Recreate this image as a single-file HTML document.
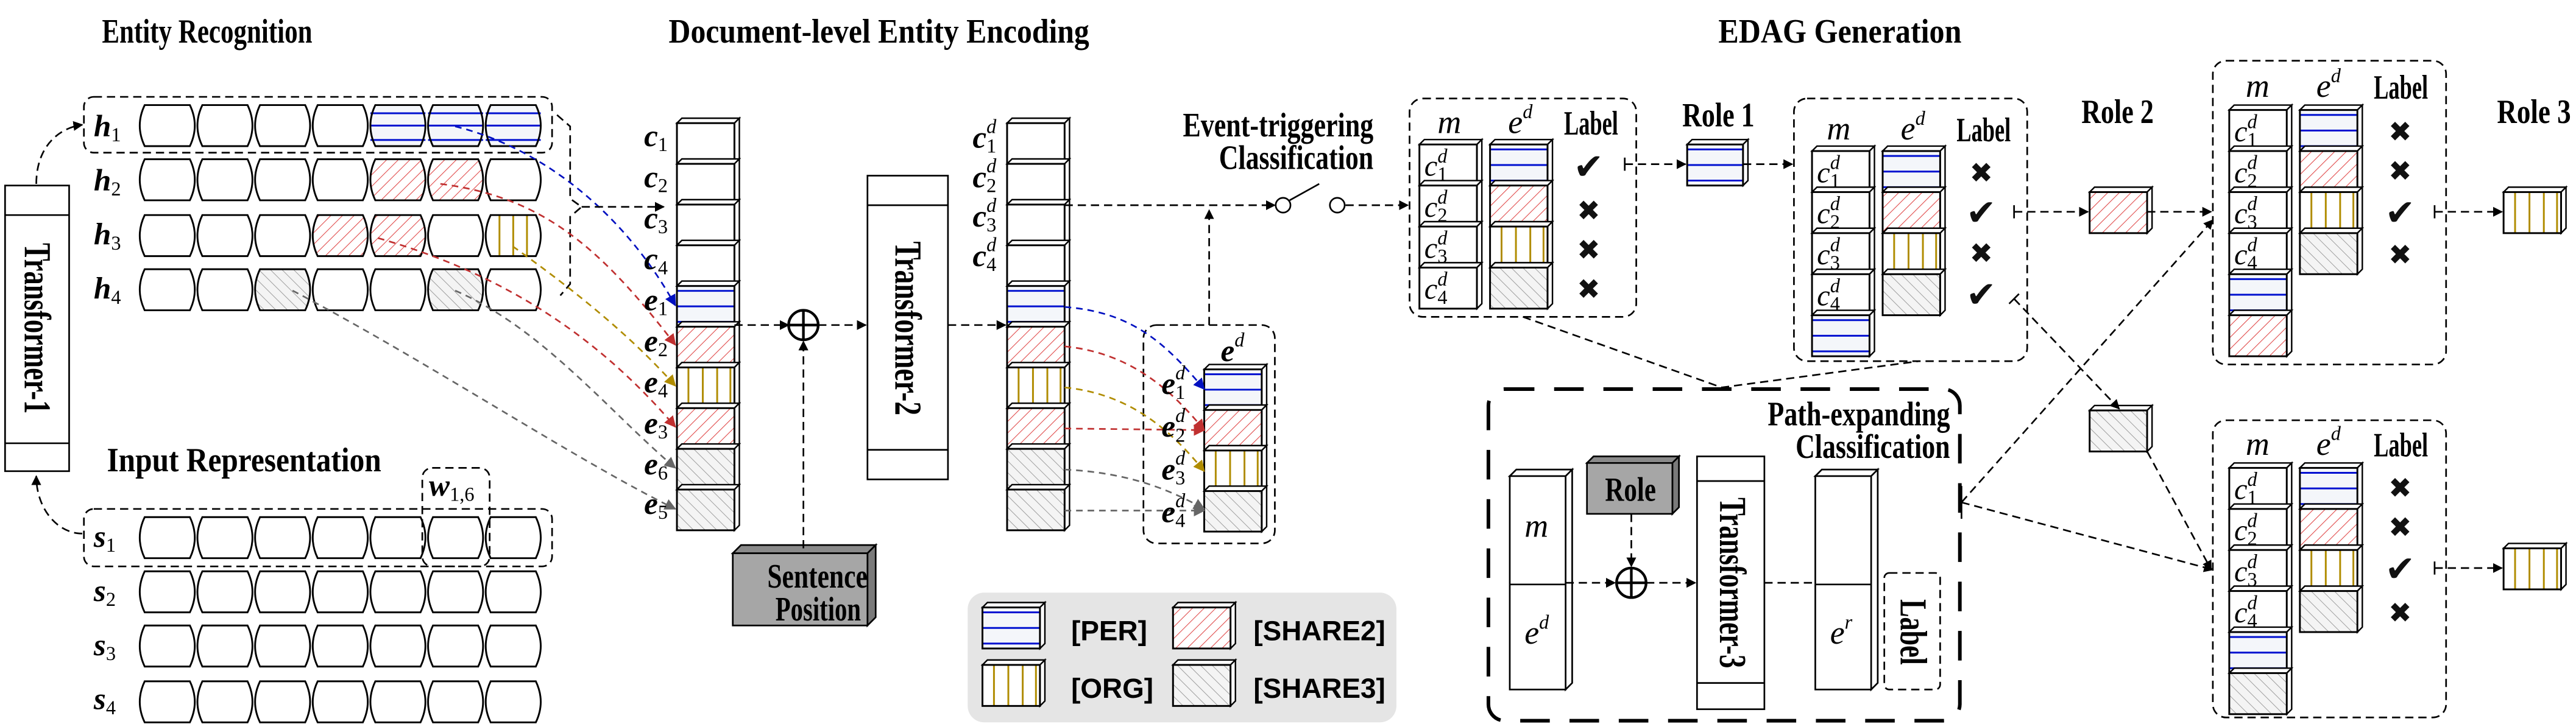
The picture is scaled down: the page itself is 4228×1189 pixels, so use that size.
<!DOCTYPE html>
<html><head><meta charset="utf-8"><style>
html,body{margin:0;padding:0;background:#fff}
svg{display:block}
.t{font-family:"Liberation Serif",serif;font-weight:bold;font-size:21px}
.tt{font-family:"Liberation Serif",serif;font-weight:bold;font-size:23px}
.mi{font-family:"Liberation Serif",serif;font-style:italic;font-weight:bold;font-size:19px}
.mr{font-family:"Liberation Serif",serif;font-style:italic;font-size:20px}
.sb{font-family:"Liberation Serif",serif;font-style:italic;font-weight:normal;font-size:12px}
.sn{font-family:"Liberation Serif",serif;font-style:normal;font-weight:normal;font-size:12px}
.lg{font-family:"Liberation Sans",sans-serif;font-weight:bold;font-size:17px}
.mk{font-family:"DejaVu Sans",sans-serif;font-size:17px;fill:#111}
.d{fill:none;stroke:#000;stroke-width:1;stroke-dasharray:5 3}
</style></head><body>
<svg id="S" width="4228" height="1189" viewBox="0 0 1568 441" xmlns="http://www.w3.org/2000/svg">
<defs>
<pattern id="pr" patternUnits="userSpaceOnUse" width="5" height="5" patternTransform="rotate(45)"><rect width="5" height="5" fill="#fff"/><line x1="0" y1="0" x2="0" y2="5" stroke="#e04848" stroke-width="0.8"/></pattern>
<pattern id="pg" patternUnits="userSpaceOnUse" width="5" height="5" patternTransform="rotate(-45)"><rect width="5" height="5" fill="#f4f4f4"/><line x1="0" y1="0" x2="0" y2="5" stroke="#999" stroke-width="0.7"/></pattern>
<marker id="ak" viewBox="0 0 10 10" refX="9" refY="5" markerWidth="6" markerHeight="6" orient="auto" markerUnits="userSpaceOnUse"><path d="M0,0 L10,5 L0,10 z" fill="#000"/></marker>
<marker id="ab" viewBox="0 0 10 10" refX="9" refY="5" markerWidth="7" markerHeight="7" orient="auto" markerUnits="userSpaceOnUse"><path d="M0,0 L10,5 L0,10 z" fill="#0010c0"/></marker>
<marker id="ar" viewBox="0 0 10 10" refX="9" refY="5" markerWidth="7" markerHeight="7" orient="auto" markerUnits="userSpaceOnUse"><path d="M0,0 L10,5 L0,10 z" fill="#c03030"/></marker>
<marker id="ay" viewBox="0 0 10 10" refX="9" refY="5" markerWidth="7" markerHeight="7" orient="auto" markerUnits="userSpaceOnUse"><path d="M0,0 L10,5 L0,10 z" fill="#b08c00"/></marker>
<marker id="ag" viewBox="0 0 10 10" refX="9" refY="5" markerWidth="7" markerHeight="7" orient="auto" markerUnits="userSpaceOnUse"><path d="M0,0 L10,5 L0,10 z" fill="#666"/></marker>
</defs>
<rect x="589" y="361" width="261" height="79" rx="10" fill="#e5e5e5"/>
<g id="shapes"></g>

<rect class="d" x="51" y="59" width="285" height="34" rx="6"/>
<rect class="d" x="51" y="310" width="285" height="35" rx="6"/>
<rect class="d" x="257" y="285" width="41" height="60" rx="6"/>
<path class="d" d="M339,70 L347,77 L347,121 L354,126 L347,132 L347,173 L341,180"/>
<rect class="d" x="696" y="198" width="80" height="133" rx="8"/>
<rect class="d" x="858" y="60" width="138" height="133" rx="8"/>
<rect class="d" x="1092" y="60" width="142" height="160" rx="8"/>
<rect class="d" x="1347" y="37" width="142" height="185" rx="8"/>
<rect class="d" x="1347" y="256" width="142" height="181" rx="8"/>
<rect class="d" x="1147" y="349" width="34" height="71" rx="3"/>
<rect x="906" y="237" width="287" height="202" rx="10" fill="none" stroke="#000" stroke-width="2.2" stroke-dasharray="18 12"/>

<g fill="#fff" stroke="#000" stroke-width="1">
<rect x="3" y="113" width="39" height="174"/><line x1="3" y1="131" x2="42" y2="131"/><line x1="3" y1="270" x2="42" y2="270"/>
<rect x="528" y="107" width="49" height="185"/><line x1="528" y1="125" x2="577" y2="125"/><line x1="528" y1="274" x2="577" y2="274"/>
<rect x="1033" y="278" width="41" height="154"/><line x1="1033" y1="293" x2="1074" y2="293"/><line x1="1033" y1="416" x2="1074" y2="416"/>
<path d="M919,290 L923,286 L957,286 L953,290 Z M953,290 L957,286 L957,416 L953,420 Z"/><rect x="919" y="290" width="34" height="130"/><line x1="919" y1="356" x2="953" y2="356"/>
<path d="M1105,290 L1109,286 L1143,286 L1139,290 Z M1139,290 L1143,286 L1143,416 L1139,420 Z"/><rect x="1105" y="290" width="34" height="130"/><line x1="1105" y1="356" x2="1139" y2="356"/>
</g>
<g stroke="#000" stroke-width="1">
<path d="M446,337 L451,332 L533,332 L528,337 Z" fill="#8a8a8a"/><path d="M528,337 L533,332 L533,376 L528,381 Z" fill="#7a7a7a"/><rect x="446" y="337" width="82" height="44" fill="#a6a6a6"/>
<path d="M966,282 L970,278 L1022,278 L1018,282 Z" fill="#8a8a8a"/><path d="M1018,282 L1022,278 L1022,309 L1018,313 Z" fill="#7a7a7a"/><rect x="966" y="282" width="52" height="31" fill="#a6a6a6"/>
</g>

<g fill="none" stroke-width="1" stroke-dasharray="4 3">
<path d="M277,77 C330,90 380,130 411,186" stroke="#0010c0" marker-end="url(#ab)"/>
<path d="M268,112 C330,120 365,150 411,210" stroke="#c03030" marker-end="url(#ar)"/>
<path d="M312,150 C340,170 380,200 411,235" stroke="#b08c00" marker-end="url(#ay)"/>
<path d="M230,145 C300,165 360,200 411,260" stroke="#c03030" marker-end="url(#ar)"/>
<path d="M277,177 C330,200 370,250 411,285" stroke="#666" marker-end="url(#ag)"/>
<path d="M178,177 C260,220 350,280 411,310" stroke="#666" marker-end="url(#ag)"/>
<path d="M648,187 C690,190 710,210 733,237" stroke="#0010c0" marker-end="url(#ab)"/>
<path d="M648,211 C690,215 715,240 733,262" stroke="#c03030" marker-end="url(#ar)"/>
<path d="M648,236 C690,240 715,265 733,287" stroke="#b08c00" marker-end="url(#ay)"/>
<path d="M648,261 L733,262" stroke="#c03030" marker-end="url(#ar)"/>
<path d="M648,286 C690,288 715,300 733,310" stroke="#666" marker-end="url(#ag)"/>
<path d="M648,311 L733,311" stroke="#666" marker-end="url(#ag)"/>
</g>

<g class="d" style="fill:none">
<path d="M22,112 C22,90 35,78 50,76" marker-end="url(#ak)"/>
<path d="M50,325 C35,325 22,310 22,290" marker-end="url(#ak)"/>
<path d="M354,126 L404,126" marker-end="url(#ak)"/>
<path d="M447,198 L480,198" marker-end="url(#ak)"/>
<path d="M489,334 L489,208" marker-end="url(#ak)"/>
<path d="M498,198 L527,198" marker-end="url(#ak)"/>
<path d="M577,198 L612,198" marker-end="url(#ak)"/>
<path d="M648,125 L776,125" marker-end="url(#ak)"/>
<path d="M819,125 L857,125" marker-end="url(#ak)"/>
<path d="M736,198 L736,128" marker-end="url(#ak)"/>
<path d="M989,100 L1026,100" marker-end="url(#ak)"/>
<path d="M1061,100 L1091,100" marker-end="url(#ak)"/>
<path d="M1226,129 L1271,129" marker-end="url(#ak)"/>
<path d="M1307,129 L1346,129" marker-end="url(#ak)"/>
<path d="M1482,129 L1523,129" marker-end="url(#ak)"/>
<path d="M1482,346 L1523,346" marker-end="url(#ak)"/>
<path d="M1226,182 L1290,249" marker-end="url(#ak)"/>
<path d="M1307,275 L1346,347" marker-end="url(#ak)"/>
<path d="M927,193 L1048,236 L1168,220"/>
<path d="M1194,306 L1347,134" marker-end="url(#ak)"/>
<path d="M1194,306 L1347,347" marker-end="url(#ak)"/>
<path d="M953,355 L983,355" marker-end="url(#ak)"/>
<path d="M993,313 L993,345" marker-end="url(#ak)"/>
<path d="M1002,355 L1032,355" marker-end="url(#ak)"/>
<path d="M1074,355 L1105,355"/>
</g>
<g stroke="#000" stroke-width="1" fill="none">
<line x1="989" y1="96" x2="989" y2="104"/><line x1="1226" y1="125" x2="1226" y2="133"/>
<line x1="1482" y1="125" x2="1482" y2="133"/><line x1="1482" y1="342" x2="1482" y2="350"/>
<line x1="1223" y1="185" x2="1229" y2="179"/>
<line x1="1194" y1="296" x2="1194" y2="316"/>
<circle cx="781" cy="125" r="4.5" fill="#fff"/><circle cx="814" cy="125" r="4.5" fill="#fff"/><line x1="785" y1="122" x2="803" y2="112"/>
<g stroke-width="1.6"><circle cx="489" cy="198" r="9"/><line x1="480" y1="198" x2="498" y2="198"/><line x1="489" y1="189" x2="489" y2="207"/>
<circle cx="993" cy="355" r="9"/><line x1="984" y1="355" x2="1002" y2="355"/><line x1="993" y1="346" x2="993" y2="364"/></g>
</g>

<text class="t" x="62" y="26" textLength="128" lengthAdjust="spacingAndGlyphs">Entity Recognition</text>
<text class="t" x="407" y="26" textLength="256" lengthAdjust="spacingAndGlyphs">Document-level Entity Encoding</text>
<text class="t" x="1046" y="26" textLength="148" lengthAdjust="spacingAndGlyphs">EDAG Generation</text>
<text class="t" x="65" y="287" textLength="167" lengthAdjust="spacingAndGlyphs">Input Representation</text>
<text class="t" x="720" y="83" textLength="116" lengthAdjust="spacingAndGlyphs">Event-triggering</text>
<text class="t" x="742" y="103" textLength="94" lengthAdjust="spacingAndGlyphs">Classification</text>
<text class="t" x="1076" y="259" textLength="111" lengthAdjust="spacingAndGlyphs">Path-expanding</text>
<text class="t" x="1093" y="279" textLength="94" lengthAdjust="spacingAndGlyphs">Classification</text>
<text class="t" x="1024" y="77" textLength="44" lengthAdjust="spacingAndGlyphs">Role 1</text>
<text class="t" x="1267" y="75" textLength="44" lengthAdjust="spacingAndGlyphs">Role 2</text>
<text class="t" x="1520" y="75" textLength="45" lengthAdjust="spacingAndGlyphs">Role 3</text>
<text class="t" x="467" y="358" textLength="61" lengthAdjust="spacingAndGlyphs">Sentence</text>
<text class="t" x="472" y="378" textLength="52" lengthAdjust="spacingAndGlyphs">Position</text>
<text class="t" x="977" y="305" textLength="31" lengthAdjust="spacingAndGlyphs">Role</text>
<text class="tt" transform="translate(15,200) rotate(90)" text-anchor="middle" textLength="104" lengthAdjust="spacingAndGlyphs">Transformer-1</text>
<text class="tt" transform="translate(545,200) rotate(90)" text-anchor="middle" textLength="106" lengthAdjust="spacingAndGlyphs">Transformer-2</text>
<text class="tt" transform="translate(1047,355) rotate(90)" text-anchor="middle" textLength="104" lengthAdjust="spacingAndGlyphs">Transformer-3</text>
<text class="tt" transform="translate(1157,385) rotate(90)" text-anchor="middle" textLength="40" lengthAdjust="spacingAndGlyphs">Label</text>

<text class="lg" x="652" y="390">[PER]</text>
<text class="lg" x="763" y="390">[SHARE2]</text>
<text class="lg" x="652" y="425">[ORG]</text>
<text class="lg" x="763" y="425">[SHARE3]</text>

<text class="mi" x="57" y="83">h<tspan class="sn" dy="3">1</tspan></text>
<text class="mi" x="57" y="116">h<tspan class="sn" dy="3">2</tspan></text>
<text class="mi" x="57" y="149">h<tspan class="sn" dy="3">3</tspan></text>
<text class="mi" x="57" y="182">h<tspan class="sn" dy="3">4</tspan></text>
<text class="mi" x="57" y="333">s<tspan class="sn" dy="3">1</tspan></text>
<text class="mi" x="57" y="366">s<tspan class="sn" dy="3">2</tspan></text>
<text class="mi" x="57" y="399">s<tspan class="sn" dy="3">3</tspan></text>
<text class="mi" x="57" y="432">s<tspan class="sn" dy="3">4</tspan></text>
<text class="mi" x="261" y="302">w<tspan class="sn" dy="3">1,6</tspan></text>

<text class="mi" x="392" y="89">c<tspan class="sn" dy="3">1</tspan></text>
<text class="mi" x="392" y="114">c<tspan class="sn" dy="3">2</tspan></text>
<text class="mi" x="392" y="139">c<tspan class="sn" dy="3">3</tspan></text>
<text class="mi" x="392" y="164">c<tspan class="sn" dy="3">4</tspan></text>
<text class="mi" x="392" y="189">e<tspan class="sn" dy="3">1</tspan></text>
<text class="mi" x="392" y="214">e<tspan class="sn" dy="3">2</tspan></text>
<text class="mi" x="392" y="239">e<tspan class="sn" dy="3">4</tspan></text>
<text class="mi" x="392" y="264">e<tspan class="sn" dy="3">3</tspan></text>
<text class="mi" x="392" y="289">e<tspan class="sn" dy="3">6</tspan></text>
<text class="mi" x="392" y="313">e<tspan class="sn" dy="3">5</tspan></text>

<text class="mi" x="592" y="90">c<tspan class="sb" dy="-9">d</tspan><tspan class="sn" dx="-6" dy="12">1</tspan></text>
<text class="mi" x="592" y="114">c<tspan class="sb" dy="-9">d</tspan><tspan class="sn" dx="-6" dy="12">2</tspan></text>
<text class="mi" x="592" y="138">c<tspan class="sb" dy="-9">d</tspan><tspan class="sn" dx="-6" dy="12">3</tspan></text>
<text class="mi" x="592" y="162">c<tspan class="sb" dy="-9">d</tspan><tspan class="sn" dx="-6" dy="12">4</tspan></text>
<text class="mi" x="707" y="240">e<tspan class="sb" dy="-9">d</tspan><tspan class="sn" dx="-6" dy="12">1</tspan></text>
<text class="mi" x="707" y="266">e<tspan class="sb" dy="-9">d</tspan><tspan class="sn" dx="-6" dy="12">2</tspan></text>
<text class="mi" x="707" y="292">e<tspan class="sb" dy="-9">d</tspan><tspan class="sn" dx="-6" dy="12">3</tspan></text>
<text class="mi" x="707" y="318">e<tspan class="sb" dy="-9">d</tspan><tspan class="sn" dx="-6" dy="12">4</tspan></text>
<text class="mi" x="743" y="220">e<tspan class="sb" dy="-9">d</tspan></text>

<text class="mr" x="875" y="81">m</text><text class="mr" x="918" y="81">e<tspan class="sb" dy="-9">d</tspan></text><text class="t" x="952" y="82" textLength="33" lengthAdjust="spacingAndGlyphs">Label</text>
<text class="mr" x="1112" y="85">m</text><text class="mr" x="1157" y="85">e<tspan class="sb" dy="-9">d</tspan></text><text class="t" x="1191" y="86" textLength="33" lengthAdjust="spacingAndGlyphs">Label</text>
<text class="mr" x="1367" y="59">m</text><text class="mr" x="1410" y="59">e<tspan class="sb" dy="-9">d</tspan></text><text class="t" x="1445" y="60" textLength="33" lengthAdjust="spacingAndGlyphs">Label</text>
<text class="mr" x="1367" y="277">m</text><text class="mr" x="1410" y="277">e<tspan class="sb" dy="-9">d</tspan></text><text class="t" x="1445" y="278" textLength="33" lengthAdjust="spacingAndGlyphs">Label</text>
<text class="mr" x="928" y="327">m</text>
<text class="mr" x="928" y="392">e<tspan class="sb" dy="-9">d</tspan></text>
<text class="mr" x="1114" y="392">e<tspan class="sb" dy="-9">r</tspan></text>

<g class="mr" font-size="18" style="font-size:18px">
<text x="867" y="107">c<tspan class="sb" dy="-8">d</tspan><tspan class="sn" dx="-6" dy="11">1</tspan></text>
<text x="867" y="132">c<tspan class="sb" dy="-8">d</tspan><tspan class="sn" dx="-6" dy="11">2</tspan></text>
<text x="867" y="157">c<tspan class="sb" dy="-8">d</tspan><tspan class="sn" dx="-6" dy="11">3</tspan></text>
<text x="867" y="182">c<tspan class="sb" dy="-8">d</tspan><tspan class="sn" dx="-6" dy="11">4</tspan></text>
<text x="1106" y="111">c<tspan class="sb" dy="-8">d</tspan><tspan class="sn" dx="-6" dy="11">1</tspan></text>
<text x="1106" y="136">c<tspan class="sb" dy="-8">d</tspan><tspan class="sn" dx="-6" dy="11">2</tspan></text>
<text x="1106" y="161">c<tspan class="sb" dy="-8">d</tspan><tspan class="sn" dx="-6" dy="11">3</tspan></text>
<text x="1106" y="186">c<tspan class="sb" dy="-8">d</tspan><tspan class="sn" dx="-6" dy="11">4</tspan></text>
<text x="1360" y="86">c<tspan class="sb" dy="-8">d</tspan><tspan class="sn" dx="-6" dy="11">1</tspan></text>
<text x="1360" y="111">c<tspan class="sb" dy="-8">d</tspan><tspan class="sn" dx="-6" dy="11">2</tspan></text>
<text x="1360" y="136">c<tspan class="sb" dy="-8">d</tspan><tspan class="sn" dx="-6" dy="11">3</tspan></text>
<text x="1360" y="161">c<tspan class="sb" dy="-8">d</tspan><tspan class="sn" dx="-6" dy="11">4</tspan></text>
<text x="1360" y="304">c<tspan class="sb" dy="-8">d</tspan><tspan class="sn" dx="-6" dy="11">1</tspan></text>
<text x="1360" y="329">c<tspan class="sb" dy="-8">d</tspan><tspan class="sn" dx="-6" dy="11">2</tspan></text>
<text x="1360" y="354">c<tspan class="sb" dy="-8">d</tspan><tspan class="sn" dx="-6" dy="11">3</tspan></text>
<text x="1360" y="379">c<tspan class="sb" dy="-8">d</tspan><tspan class="sn" dx="-6" dy="11">4</tspan></text>
</g>

<g class="mk" text-anchor="middle">
<text x="967" y="109" style="font-size:22px">✔</text><text x="967" y="134">✖</text><text x="967" y="158">✖</text><text x="967" y="182">✖</text>
<text x="1206" y="111">✖</text><text x="1206" y="137" style="font-size:22px">✔</text><text x="1206" y="160">✖</text><text x="1206" y="187" style="font-size:22px">✔</text>
<text x="1461" y="86">✖</text><text x="1461" y="110">✖</text><text x="1461" y="137" style="font-size:22px">✔</text><text x="1461" y="161">✖</text>
<text x="1461" y="303">✖</text><text x="1461" y="327">✖</text><text x="1461" y="354" style="font-size:22px">✔</text><text x="1461" y="379">✖</text>
</g>
</svg>
<script>
(function(){
var NS="http://www.w3.org/2000/svg",G=document.getElementById("shapes");
function el(t,a){var e=document.createElementNS(NS,t);for(var k in a)e.setAttribute(k,a[k]);G.appendChild(e);return e;}
function deco(x,y,w,h,t){
 if(t=="b"){[0.12,0.5,0.88].forEach(function(f){el("line",{x1:x,x2:x+w,y1:y+h*f,y2:y+h*f,stroke:"#0010d0","stroke-width":1.1});});}
 if(t=="y"){[0.2,0.45,0.7,0.93].forEach(function(f){el("line",{x1:x+w*f,x2:x+w*f,y1:y,y2:y+h,stroke:"#b08c00","stroke-width":1.1});});}
}
function fillOf(t){return t=="r"?"url(#pr)":t=="g"?"url(#pg)":t=="b"?"#f4f6fa":"#fff";}
function cube(x,y,w,h,t,d){d=d||3;
 el("path",{d:"M"+x+","+y+" L"+(x+d)+","+(y-d)+" L"+(x+w+d)+","+(y-d)+" L"+(x+w)+","+y+" Z",fill:"#fff",stroke:"#000","stroke-width":0.9});
 el("path",{d:"M"+(x+w)+","+y+" L"+(x+w+d)+","+(y-d)+" L"+(x+w+d)+","+(y+h-d)+" L"+(x+w)+","+(y+h)+" Z",fill:"#fff",stroke:"#000","stroke-width":0.9});
 el("rect",{x:x,y:y,width:w,height:h,fill:fillOf(t),stroke:"none"});
 deco(x,y,w,h,t);
 el("rect",{x:x,y:y,width:w,height:h,fill:"none",stroke:"#000","stroke-width":1.1});
}
function barrel(x,y,w,h,t){
 var p="M"+(x+3)+","+y+" L"+(x+w-3)+","+y+" Q"+(x+w+3)+","+(y+h/2)+" "+(x+w-3)+","+(y+h)+" L"+(x+3)+","+(y+h)+" Q"+(x-3)+","+(y+h/2)+" "+(x+3)+","+y+" Z";
 el("path",{d:p,fill:fillOf(t)});
 if(t=="b"){[0.2,0.5,0.85].forEach(function(f){el("line",{x1:x,x2:x+w,y1:y+h*f,y2:y+h*f,stroke:"#0010d0","stroke-width":1.1});});}
 if(t=="y"){[0.25,0.5,0.75].forEach(function(f){el("line",{x1:x+w*f,x2:x+w*f,y1:y,y2:y+h,stroke:"#b08c00","stroke-width":1.1});});}
 el("path",{d:p,fill:"none",stroke:"#000","stroke-width":1.1});
}
var hy=[64,97,131,164],hp=[{4:"b",5:"b",6:"b"},{4:"r",5:"r"},{3:"r",4:"r",6:"y"},{2:"g",5:"g"}];
for(var r=0;r<4;r++)for(var i=0;i<7;i++)barrel(85+i*35.1,hy[r],33.5,25,hp[r][i]||"");
var sy=[315,348,381,415];
for(r=0;r<4;r++)for(i=0;i<7;i++)barrel(85+i*35.1,sy[r],33.5,25,"");
var st=["","","","","b","r","y","r","g","g"];
for(i=0;i<10;i++){cube(412,75+i*24.8,35,24.8,st[i]);cube(613,75+i*24.8,35,24.8,st[i]);}
var ss=["b","r","y","g"];
for(i=0;i<4;i++)cube(733,225+i*24.7,35,24.7,ss[i]);
function col(x,y,arr){for(var i=0;i<arr.length;i++)cube(x,y+i*25,35,25,arr[i]);}
col(864,88,["","","",""]);col(907,88,ss);
col(1103,92,["","","","","b"]);col(1146,92,ss);
col(1357,67,["","","","","b","r"]);col(1400,67,ss);
col(1357,285,["","","","","b","g"]);col(1400,285,ss);
cube(1027,88,34,25,"b");cube(1272,117,35,25,"r");cube(1524,117,35,25,"y");cube(1524,334,35,25,"y");cube(1272,250,35,25,"g");
cube(598,370,35,25,"b");cube(714,370,35,25,"r");cube(598,405,35,25,"y");cube(714,405,35,25,"g");
})();
</script>
</body></html>
